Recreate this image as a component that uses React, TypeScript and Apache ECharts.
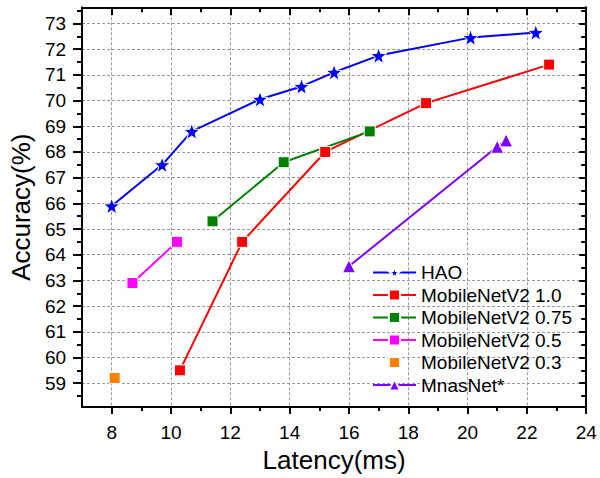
import React, { useEffect, useRef } from "react";
import * as echarts from "echarts";

const X_MIN = 7;
const X_MAX = 24;
const Y_MIN = 58.07;
const Y_MAX = 73.63;

const xMajorTicks = [8, 10, 12, 14, 16, 18, 20, 22, 24];
const xMinorTicks = [9, 11, 13, 15, 17, 19, 21, 23];
const yMajorTicks = [59, 60, 61, 62, 63, 64, 65, 66, 67, 68, 69, 70, 71, 72, 73];
const yMinorTicks = [58.5, 59.5, 60.5, 61.5, 62.5, 63.5, 64.5, 65.5, 66.5, 67.5, 68.5, 69.5, 70.5, 71.5, 72.5, 73.5];

const haoLatency = [8.0, 9.7, 10.7, 13.0, 14.4, 15.5, 17.0, 20.1, 22.3];
const haoAccuracy = [65.9, 67.5, 68.8, 70.05, 70.55, 71.1, 71.75, 72.45, 72.65];

const mbv2_10Latency = [10.3, 12.4, 15.2, 18.6, 22.75];
const mbv2_10Accuracy = [59.5, 64.5, 68.0, 69.9, 71.4];

const mbv2_075Latency = [11.4, 13.8, 16.7];
const mbv2_075Accuracy = [65.3, 67.6, 68.8];

const mbv2_05Latency = [8.7, 10.2];
const mbv2_05Accuracy = [62.9, 64.5];

const mbv2_03Latency = [8.1];
const mbv2_03Accuracy = [59.2];

const mnasLatency = [16.0, 21.0, 21.3];
const mnasAccuracy = [63.55, 68.2, 68.45];

const STAR =
  "path://M12,0 L15.1,8.3 L24,8.6 L17,14.1 L19.4,22.7 L12,17.7 L4.6,22.7 L7,14.1 L0,8.6 L8.9,8.3 Z";

const FONT = "Liberation Sans, Arial, sans-serif";

function pairs(xs: number[], ys: number[]) {
  return xs.map((x, i) => [x, ys[i]]);
}

function mkSeries(
  name: string,
  xs: number[],
  ys: number[],
  color: string,
  symbol: string,
  size: number | number[],
  lineWidth: number
) {
  return {
    name,
    type: "line",
    xAxisIndex: 0,
    yAxisIndex: 0,
    data: pairs(xs, ys),
    symbol,
    symbolSize: size,
    showSymbol: true,
    lineStyle: { color, width: lineWidth },
    itemStyle: { color, borderColor: "#fff", borderWidth: 1 },
    emphasis: { disabled: true },
  };
}

export default function App() {
  const ref = useRef<HTMLDivElement>(null);
  useEffect(() => {
    if (!ref.current) return;
    const chart = echarts.init(ref.current, undefined, { renderer: "svg" });
    const axisLine = { show: true, lineStyle: { color: "#000", width: 2 } };
    const gridLine = { show: true, lineStyle: { color: "#999", width: 1, type: [3, 2] } };
    const option: any = {
      animation: false,
      backgroundColor: "#fff",
      textStyle: { fontFamily: FONT },
      grid: { left: 78.4, right: 13.8, top: 7.3, bottom: 61.3 },
      legend: {
        orient: "vertical",
        left: 367,
        top: 258,
        itemWidth: 43,
        itemHeight: 14,
        itemGap: 3.5,
        textStyle: { fontSize: 19, color: "#000", fontFamily: FONT },
        data: ["HAO", "MobileNetV2 1.0", "MobileNetV2 0.75", "MobileNetV2 0.5", "MobileNetV2 0.3", "MnasNet*"],
      },
      xAxis: [
        {
          type: "value",
          position: "bottom",
          min: X_MIN,
          max: X_MAX,
          interval: 1,
          name: "Latency(ms)",
          nameLocation: "middle",
          nameGap: 33,
          nameTextStyle: { fontSize: 26, color: "#000", fontFamily: FONT },
          axisLine,
          axisTick: { show: true, inside: false, length: 7, customValues: xMajorTicks, lineStyle: { color: "#000", width: 2 } },
          axisLabel: { show: true, customValues: xMajorTicks, margin: 16, fontSize: 19, color: "#000", fontFamily: FONT },
          splitLine: gridLine,
        },
        {
          type: "value",
          position: "bottom",
          min: X_MIN,
          max: X_MAX,
          axisLine: { show: false },
          axisTick: { show: true, inside: false, length: 4, customValues: xMinorTicks, lineStyle: { color: "#000", width: 2 } },
          axisLabel: { show: false },
          splitLine: { show: false },
        },
        {
          type: "value",
          position: "top",
          min: X_MIN,
          max: X_MAX,
          axisLine,
          axisTick: { show: true, inside: true, length: 8, customValues: xMajorTicks, lineStyle: { color: "#000", width: 2 } },
          axisLabel: { show: false },
          splitLine: { show: false },
        },
        {
          type: "value",
          position: "top",
          min: X_MIN,
          max: X_MAX,
          axisLine: { show: false },
          axisTick: { show: true, inside: true, length: 5, customValues: xMinorTicks, lineStyle: { color: "#000", width: 2 } },
          axisLabel: { show: false },
          splitLine: { show: false },
        },
      ],
      yAxis: [
        {
          type: "value",
          position: "left",
          min: Y_MIN,
          max: Y_MAX,
          interval: 1,
          name: "Accuracy(%)",
          nameLocation: "middle",
          nameGap: 40,
          nameTextStyle: { fontSize: 26, color: "#000", fontFamily: FONT },
          axisLine,
          axisTick: { show: true, inside: false, length: 9, customValues: yMajorTicks, lineStyle: { color: "#000", width: 2 } },
          axisLabel: { show: true, customValues: yMajorTicks, margin: 16, fontSize: 19, color: "#000", fontFamily: FONT },
          splitLine: gridLine,
        },
        {
          type: "value",
          position: "left",
          min: Y_MIN,
          max: Y_MAX,
          axisLine: { show: false },
          axisTick: { show: true, inside: false, length: 5, customValues: yMinorTicks, lineStyle: { color: "#000", width: 2 } },
          axisLabel: { show: false },
          splitLine: { show: false },
        },
        {
          type: "value",
          position: "right",
          min: Y_MIN,
          max: Y_MAX,
          axisLine,
          axisTick: { show: true, inside: true, length: 7, customValues: yMajorTicks, lineStyle: { color: "#000", width: 2 } },
          axisLabel: { show: false },
          splitLine: { show: false },
        },
        {
          type: "value",
          position: "right",
          min: Y_MIN,
          max: Y_MAX,
          axisLine: { show: false },
          axisTick: { show: true, inside: true, length: 5, customValues: yMinorTicks, lineStyle: { color: "#000", width: 2 } },
          axisLabel: { show: false },
          splitLine: { show: false },
        },
      ],
      series: [
        mkSeries("HAO", haoLatency, haoAccuracy, "#0000ff", STAR, 16, 2),
        mkSeries("MobileNetV2 1.0", mbv2_10Latency, mbv2_10Accuracy, "#ff0000", "rect", 11, 2),
        mkSeries("MobileNetV2 0.75", mbv2_075Latency, mbv2_075Accuracy, "#008000", "rect", 11, 2),
        mkSeries("MobileNetV2 0.5", mbv2_05Latency, mbv2_05Accuracy, "#ff00ff", "rect", 11, 2),
        mkSeries("MobileNetV2 0.3", mbv2_03Latency, mbv2_03Accuracy, "#ff8000", "rect", 11, 0),
        mkSeries("MnasNet*", mnasLatency, mnasAccuracy, "#8000ff", "triangle", 13, 2),
      ],
    };
    chart.setOption(option);
    return () => chart.dispose();
  }, []);
  return (
    <div
      ref={ref}
      style={{ position: "absolute", left: 0, top: 0, width: 600, height: 478, background: "#fff" }}
    />
  );
}
